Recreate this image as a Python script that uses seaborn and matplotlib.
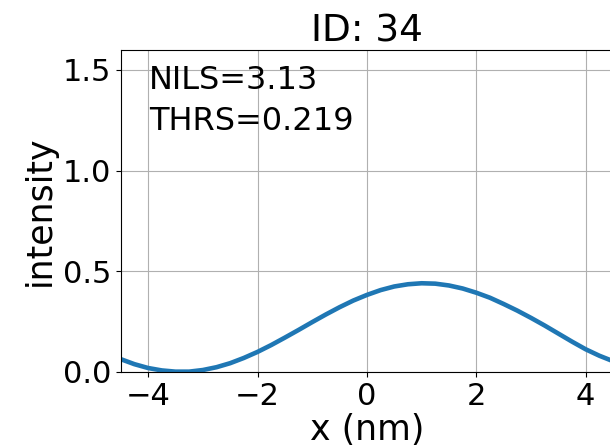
import matplotlib
matplotlib.use("Agg")
import matplotlib.pyplot as plt
import seaborn as sns
import pandas as pd

x_nm = [-4.5, -4.25, -4.0, -3.75, -3.5, -3.25, -3.0, -2.75, -2.5, -2.25, -2.0, -1.75,
        -1.5, -1.25, -1.0, -0.75, -0.5, -0.25, 0.0, 0.25, 0.5, 0.75, 1.0, 1.25, 1.5,
        1.75, 2.0, 2.25, 2.5, 2.75, 3.0, 3.25, 3.5, 3.75, 4.0, 4.25, 4.5]
intensity = [0.063, 0.038, 0.019, 0.007, 0.001, 0.001, 0.009, 0.023, 0.043, 0.069, 0.099, 0.133,
             0.170, 0.208, 0.247, 0.285, 0.321, 0.354, 0.382, 0.406, 0.424, 0.435, 0.440, 0.438, 0.429,
             0.414, 0.393, 0.368, 0.337, 0.304, 0.268, 0.230, 0.190, 0.150, 0.112, 0.080, 0.053]
title = "ID: 34"
annotation = "NILS=3.13\nTHRS=0.219"
x_ticks = [-4, -2, 0, 2, 4]
y_ticks = [0.0, 0.5, 1.0, 1.5]

df = pd.DataFrame({"x": x_nm, "intensity": intensity})

fig = plt.figure(figsize=(6.1, 4.48), dpi=100)
ax = fig.add_axes([0.198, 0.170, 0.807, 0.719])
sns.lineplot(data=df, x="x", y="intensity", ax=ax, color="#1f77b4", linewidth=3.3)
ax.set_xlim(-4.5, 4.5)
ax.set_ylim(0, 1.6)
ax.set_xticks(x_ticks)
ax.set_yticks(y_ticks)
ax.grid(True, color="#b0b0b0", linewidth=0.8)
ax.tick_params(labelsize=22)
ax.set_xlabel("x (nm)", fontsize=25, labelpad=2)
ax.set_ylabel("intensity", fontsize=25)
ax.set_title(title, fontsize=27)
ax.text(0.057, 0.953, annotation, transform=ax.transAxes, fontsize=23, va="top", ha="left",
        linespacing=1.42)
fig.savefig("out.png", dpi=100)
